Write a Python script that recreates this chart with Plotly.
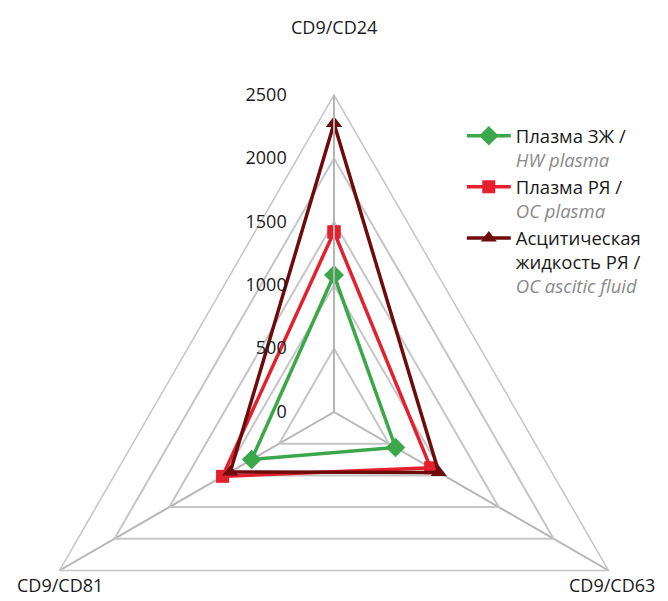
import plotly.graph_objects as go

categories = ["CD9/CD24", "CD9/CD63", "CD9/CD81"]
hw_plasma = [1080, 560, 750]
oc_plasma = [1420, 880, 1015]
oc_ascitic = [2275, 955, 945]
radial_ticks = [0, 500, 1000, 1500, 2000, 2500]

names = [
    "Плазма ЗЖ /<br><i><span style='color:#8a8a8a'>HW plasma</span></i>",
    "Плазма РЯ /<br><i><span style='color:#8a8a8a'>OC plasma</span></i>",
    "Асцитическая<br>жидкость РЯ /<br><i><span style='color:#8a8a8a'>OC ascitic fluid</span></i>",
]
series = [hw_plasma, oc_plasma, oc_ascitic]
colors = ["#3aa84a", "#e5202e", "#6e0c0c"]
symbols = ["diamond", "square", "triangle-up"]
msizes = [15, 13, 14]

fig = go.Figure()
for vals, name, col, sym, ms in zip(series, names, colors, symbols, msizes):
    fig.add_trace(go.Scatterpolar(
        r=vals + vals[:1],
        theta=categories + categories[:1],
        mode="lines+markers",
        name=name,
        line=dict(color=col, width=3.5),
        marker=dict(symbol=sym, size=ms, color=col),
    ))

FONT = "Open Sans"
label_pos = [(0.5, 1.107), (0.926, 0.227), (0.08, 0.227)]
annotations = [
    dict(text=c, x=x, y=y, xref="paper", yref="paper", showarrow=False,
         xanchor="center", yanchor="middle", font=dict(family=FONT, size=18, color="#1a1a1a"))
    for c, (x, y) in zip(categories, label_pos)
]

fig.update_layout(
    width=652, height=722,
    margin=dict(l=0, r=0, t=87, b=1),
    paper_bgcolor="white",
    plot_bgcolor="white",
    font=dict(family=FONT, size=17, color="#1a1a1a"),
    polar=dict(
        bgcolor="white",
        gridshape="linear",
        radialaxis=dict(
            range=[0, 2500], tickvals=radial_ticks, ticktext=[str(v) for v in radial_ticks],
            angle=90, side="counterclockwise", tickangle=90,
            showline=True, linecolor="#b5b5b5", linewidth=2,
            gridcolor="#c6c6c6", gridwidth=1.5,
            ticks="outside", ticklen=40, tickcolor="rgba(0,0,0,0)",
            tickfont=dict(family=FONT, size=18, color="#1a1a1a"),
        ),
        angularaxis=dict(
            direction="clockwise", rotation=90,
            showticklabels=False, ticks="",
            showline=True, linecolor="#c6c6c6", linewidth=1.5,
            gridcolor="#b5b5b5", gridwidth=2,
        ),
    ),
    legend=dict(
        x=0.696, y=0.965, xanchor="left", yanchor="top",
        valign="top", itemwidth=44,
        font=dict(family=FONT, size=18.5, color="#1a1a1a"),
        bgcolor="rgba(0,0,0,0)", tracegroupgap=4,
    ),
    annotations=annotations,
)

fig.write_html("out.html")
